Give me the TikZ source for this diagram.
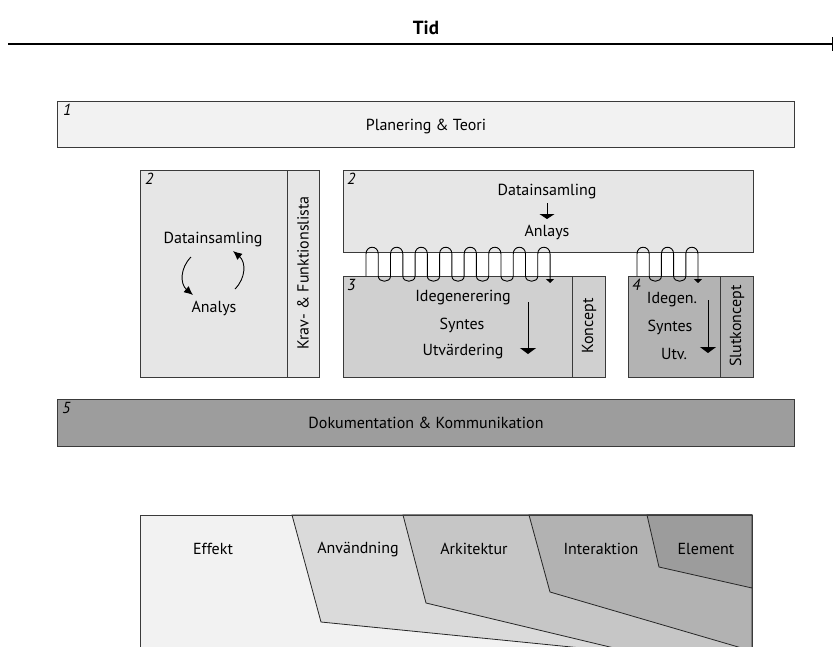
\documentclass[tikz,border=0pt]{standalone}
\usepackage{fontspec}
\setmainfont{PT Sans}
\usetikzlibrary{arrows.meta}
\definecolor{shadeA}{HTML}{F2F2F2}
\definecolor{shadeB}{HTML}{E6E6E6}
\definecolor{shadeC}{HTML}{D0D0D0}
\definecolor{shadeD}{HTML}{B3B3B3}
\definecolor{shadeE}{HTML}{9D9D9D}
\definecolor{levA}{HTML}{DADADA}
\definecolor{levB}{HTML}{C6C6C6}
\definecolor{levC}{HTML}{B2B2B2}
\definecolor{levD}{HTML}{9C9C9C}
\definecolor{edge}{HTML}{3A3A3A}
\begin{document}
\begin{tikzpicture}[x=1pt,y=-1pt,
  box/.style={draw=edge,line width=0.9pt},
  lbl/.style={inner sep=0pt,font=\fontsize{16}{18}\selectfont},
  num/.style={inner sep=0pt,anchor=north west,font=\fontsize{16}{18}\selectfont\itshape},
  vlbl/.style={lbl,rotate=90},
  lev/.style={draw=black!85,line width=0.8pt,line join=miter},
  coil/.style={draw=black!85,line width=0.9pt},
  flow/.style={draw=black,line width=0.9pt,-{Triangle[width=16pt,length=6pt]}},
  tinyflow/.style={draw=black,line width=0.9pt,-{Triangle[width=8pt,length=4pt]}},
  cycle/.style={draw=black,line width=0.9pt,-{Latex[length=9pt,width=8pt]}}
]
\useasboundingbox (0,0) rectangle (835,646);
\fill[white] (0,0) rectangle (835,646);

% time axis
\node[inner sep=0pt,font=\fontsize{19}{21}\selectfont\bfseries] (tid) at (426,28) {Tid};
\coordinate (t0) at (8,44);
\coordinate (t1) at (833,44);
\draw[line width=1.3pt,-{Bar[width=14pt,line width=1.5pt]}] (t0) -- (t1);

% 1: planning and theory
\draw[box,fill=shadeA] (57,101) rectangle (794,147);
\node[num] (n1) at (63,104) {1};
\node[lbl] (plan) at (426,126) {Planering \& Teori};

% 2: data collection (left)
\draw[box,fill=shadeB] (140,170) rectangle (319,377);
\draw[box] (287,170) -- (287,377);
\node[num] (n2a) at (145,173) {2};
\node[lbl] (dataA) at (213,240) {Datainsamling};
\node[lbl] (anaA) at (214,308) {Analys};
\node[vlbl] (krav) at (303,273) {Krav- \& Funktionslista};
\draw[cycle] (191,257) .. controls (180,268) and (180,284) .. (193,295);
\draw[cycle] (235,289) .. controls (246,278) and (246,262) .. (233,251);

% 2: data collection (right)
\draw[box,fill=shadeB] (343,170) rectangle (753,252);
\node[num] (n2b) at (347,173) {2};
\node[lbl] (dataB) at (547,192) {Datainsamling};
\node[lbl] (anaB) at (547,232) {Anlays};
\coordinate (dB) at (547,203);
\coordinate (aB) at (547,219);
\draw[draw=black,line width=0.9pt,-{Triangle[width=15pt,length=5pt]}] (dB) -- (aB);

% 3: concept generation
\draw[box,fill=shadeC] (343,276) rectangle (605,377);
\draw[box] (572,276) -- (572,377);
\node[num] (n3) at (347,279) {3};
\node[lbl] (ide3) at (463,298) {Idegenerering};
\node[lbl] (syn3) at (462,325) {Syntes};
\node[lbl] (utv3) at (463,352) {Utvärdering};
\node[vlbl] (koncept) at (589,326) {Koncept};
\coordinate (f3a) at (528,302);
\coordinate (f3b) at (528,354);
\draw[flow] (f3a) -- (f3b);

% 4: final concept
\draw[box,fill=shadeD] (628,276) rectangle (753,377);
\draw[box] (720,276) -- (720,377);
\node[num] (n4) at (632,279) {4};
\node[lbl] (ide4) at (672,300) {Idegen.};
\node[lbl] (syn4) at (670,327) {Syntes};
\node[lbl] (utv4) at (674,354) {Utv.};
\node[vlbl] (slut) at (737,326) {Slutkoncept};
\coordinate (f4a) at (708,300);
\coordinate (f4b) at (708,353);
\draw[flow] (f4a) -- (f4b);

% coils linking data collection with the concept phases
\def\cw{12.27}
\draw[coil,tinyflow] (366,276) -- (366,254)
  \foreach \j in {0,...,6} {
    .. controls +(0,-9) and +(0,-9) .. ({366+(2*\j+1)*\cw},254)
    -- ({366+(2*\j+1)*\cw},276)
    .. controls +(0,7) and +(0,7) .. ({366+(2*\j+2)*\cw},276)
    -- ({366+(2*\j+2)*\cw},254)
  }
  .. controls +(0,-9) and +(0,-9) .. ({366+15*\cw},254) -- ({366+15*\cw},283);
\def\cv{12.2}
\draw[coil,tinyflow] (637,276) -- (637,254)
  \foreach \j in {0,1} {
    .. controls +(0,-9) and +(0,-9) .. ({637+(2*\j+1)*\cv},254)
    -- ({637+(2*\j+1)*\cv},276)
    .. controls +(0,7) and +(0,7) .. ({637+(2*\j+2)*\cv},276)
    -- ({637+(2*\j+2)*\cv},254)
  }
  .. controls +(0,-9) and +(0,-9) .. ({637+5*\cv},254) -- ({637+5*\cv},283);

% 5: documentation
\draw[box,fill=shadeE] (57,399) rectangle (794,446);
\node[num] (n5) at (62,402) {5};
\node[lbl] (dok) at (426,423) {Dokumentation \& Kommunikation};

% design levels
\begin{scope}
\clip (0,0) rectangle (835,646);
\fill[shadeA] (140,515) rectangle (752,660);
\filldraw[lev,fill=levA] (292,515) -- (321,622) -- (752,665) -- (752,515) -- cycle;
\filldraw[lev,fill=levB] (403,515) -- (426,603) -- (752,681) -- (752,515) -- cycle;
\filldraw[lev,fill=levC] (529,515) -- (550,592) -- (752,651) -- (752,515) -- cycle;
\filldraw[lev,fill=levD] (647,515) -- (659,567) -- (752,588) -- (752,515) -- cycle;
\draw[box] (140,660) -- (140,515) -- (752,515) -- (752,660);
\end{scope}
\node[lbl] (eff) at (213,549) {Effekt};
\node[lbl] (anv) at (358,549) {Användning};
\node[lbl] (ark) at (474,549) {Arkitektur};
\node[lbl] (int) at (601,549) {Interaktion};
\node[lbl] (ele) at (706,549) {Element};
\end{tikzpicture}
\end{document}
